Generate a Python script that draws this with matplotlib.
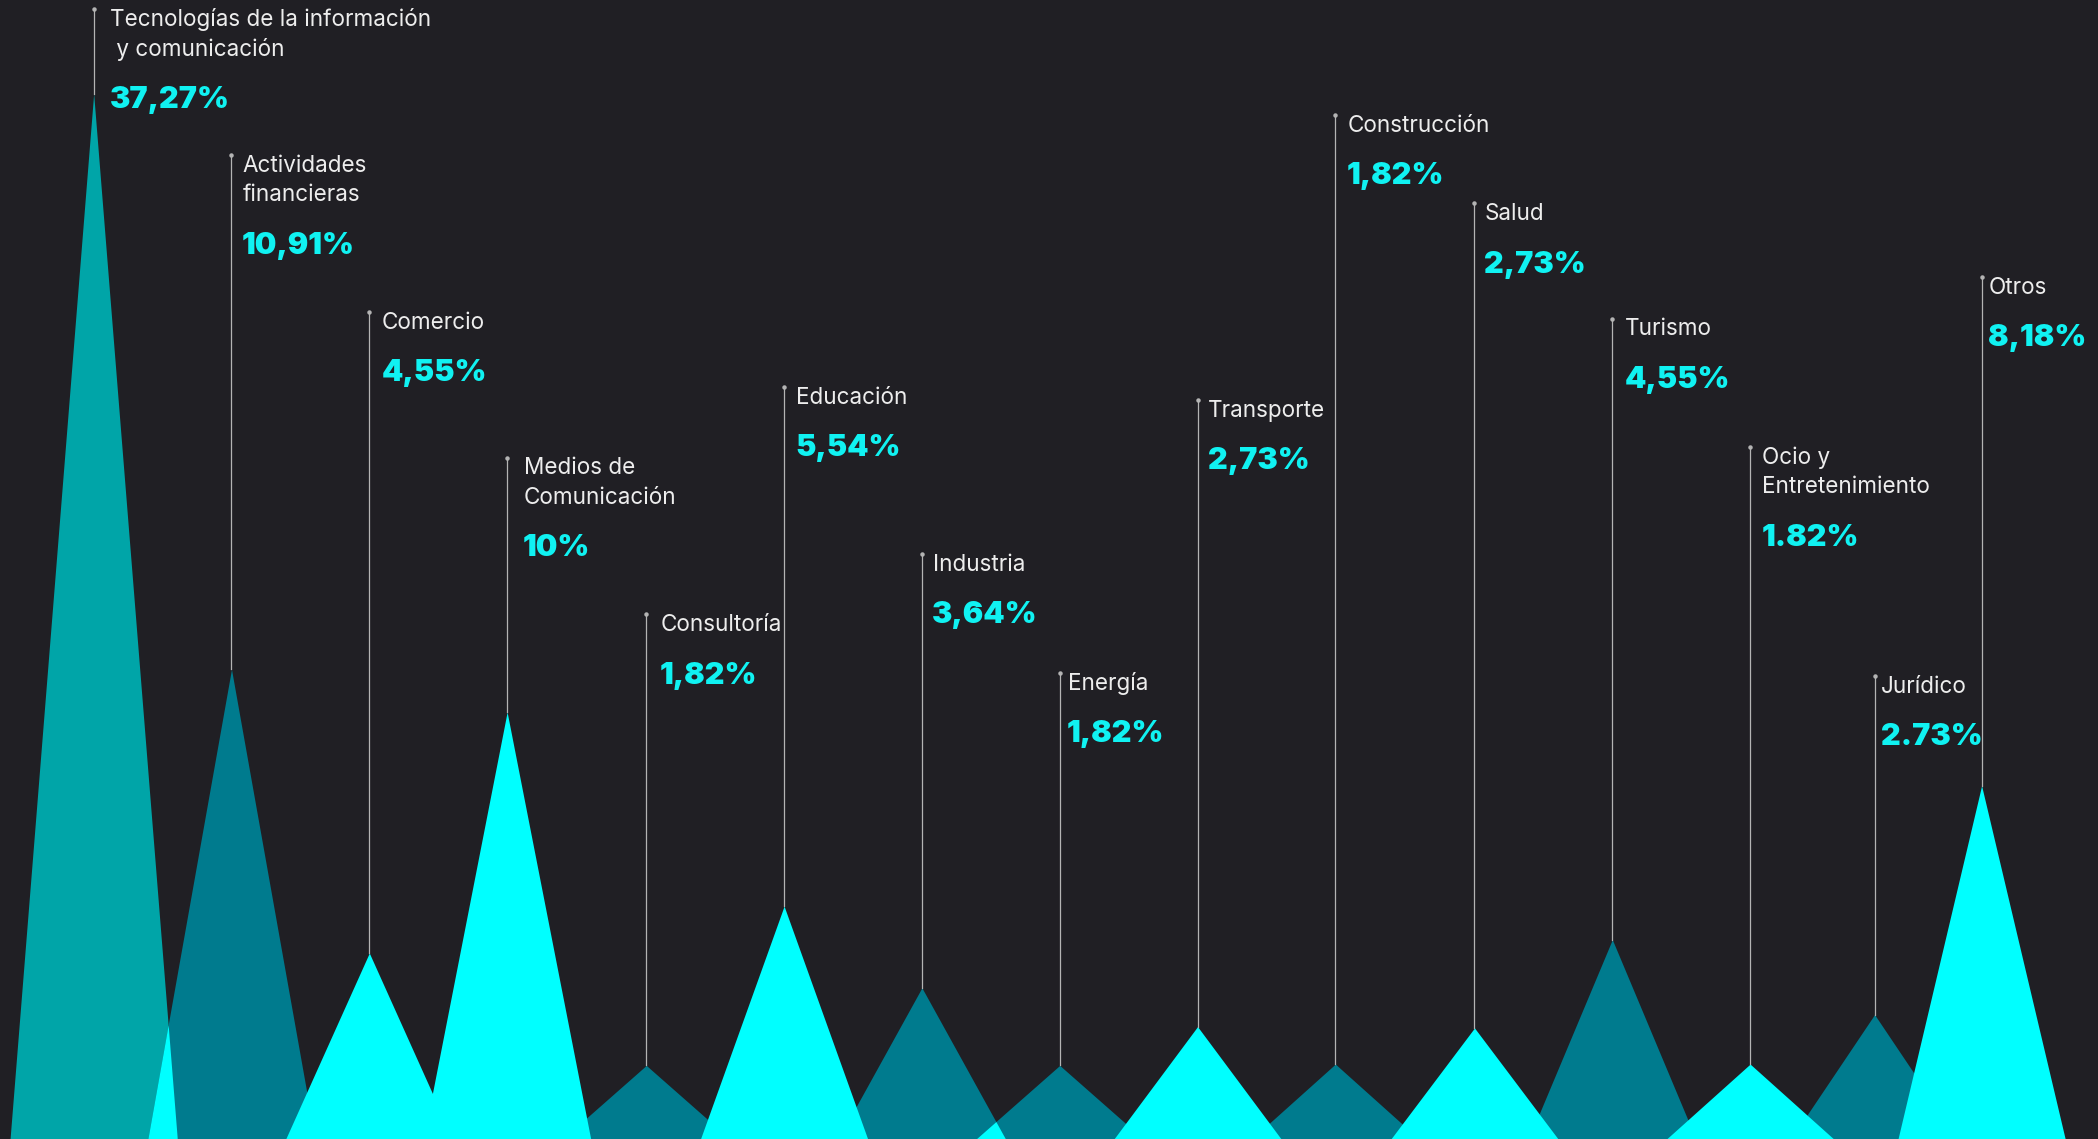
import numpy as np
import matplotlib.pyplot as plt

# datos
sectores = [
    "Tecnologías de la información\n y comunicación",
    "Actividades\nfinancieras",
    "Comercio",
    "Medios de\nComunicación",
    "Consultoría",
    "Educación",
    "Industria",
    "Energía",
    "Transporte",
    "Construcción",
    "Salud",
    "Turismo",
    "Ocio y\nEntretenimiento",
    "Jurídico",
    "Otros",
]
porcentajes = ["37,27%", "10,91%", "4,55%", "10%", "1,82%", "5,54%", "3,64%", "1,82%",
               "2,73%", "1,82%", "2,73%", "4,55%", "1.82%", "2.73%", "8,18%"]
# altura de cada pico
alturas = [781, 351, 139, 319, 55, 174, 113, 55, 84, 56, 83, 149, 56, 93, 264]
# tipo de color de cada pico
tipo = ["medio", "oscuro", "claro", "claro", "oscuro", "claro", "oscuro", "oscuro",
        "claro", "oscuro", "claro", "oscuro", "claro", "oscuro", "claro"]

# maquetación
pos_x = [70, 173, 276, 379, 483, 586, 689, 792, 895, 998, 1102, 1205, 1308, 1401, 1481]
tope_linea = [7, 116, 233, 342, 459, 289, 414, 503, 299, 86, 152, 238, 334, 505, 207]
sep_texto = [12.5, 8.5, 9.5, 12.5, 10.5, 9, 8, 6, 8, 9, 7.5, 9.5, 9, 5, 5]
W, H = 1568, 851
semi_base = 62.5

fondo = "#201f24"
colores = {"medio": "#00a5a8", "oscuro": "#007b8e", "claro": "#00ffff"}
color_pct = "#10f2f2"
color_txt = "#ededed"
color_linea = "#b4b4b4"

fig = plt.figure(figsize=(20.98, 11.39), dpi=100, facecolor=fondo)
ax = fig.add_axes([0, 0, 1, 1])
ax.set_facecolor(fondo)
ax.set_xlim(0, W)
ax.set_ylim(0, H)
ax.axis("off")


def perfil(x, x0, h):
    return np.clip(h * (1 - np.abs(x - x0) / semi_base), 0, None)


xs = np.linspace(0, W, 20000)

# picos oscuros primero
for x0, h, t in zip(pos_x, alturas, tipo):
    if t != "claro":
        xx = np.array([x0 - semi_base, x0, x0 + semi_base])
        ax.fill_between(xx, 0, [0, h, 0], color=colores[t], lw=0, zorder=1)

# solapes entre picos oscuros vecinos -> color claro
for i in range(len(pos_x) - 1):
    if tipo[i] != "claro" and tipo[i + 1] != "claro":
        y = np.minimum(perfil(xs, pos_x[i], alturas[i]), perfil(xs, pos_x[i + 1], alturas[i + 1]))
        ax.fill_between(xs, 0, y, where=y > 0, color=colores["claro"], lw=0, zorder=2)

# picos claros encima
for x0, h, t in zip(pos_x, alturas, tipo):
    if t == "claro":
        xx = np.array([x0 - semi_base, x0, x0 + semi_base])
        ax.fill_between(xx, 0, [0, h, 0], color=colores[t], lw=0, zorder=3)

# líneas guía y textos
for x0, h, top, dx, nombre, pct in zip(pos_x, alturas, tope_linea, sep_texto, sectores, porcentajes):
    ax.plot([x0, x0], [H - top, h], color=color_linea, lw=0.9, zorder=4)
    ax.plot(x0, H - top, "o", color=color_linea, ms=2.2, zorder=4)
    base = top + 12.5
    lineas = nombre.split("\n")
    for k, linea in enumerate(lineas):
        ax.text(x0 + dx, H - (base + 22 * k), linea, color=color_txt, fontsize=16.2,
                family="Inter", va="baseline", ha="left", zorder=5)
    ax.text(x0 + dx - 0.5, H - (base + 22 * (len(lineas) - 1) + 39.2), pct, color=color_pct,
            fontsize=22, family="Inter", fontweight="black", va="baseline", ha="left", zorder=5)

fig.savefig("out.png", dpi=100, facecolor=fondo)
